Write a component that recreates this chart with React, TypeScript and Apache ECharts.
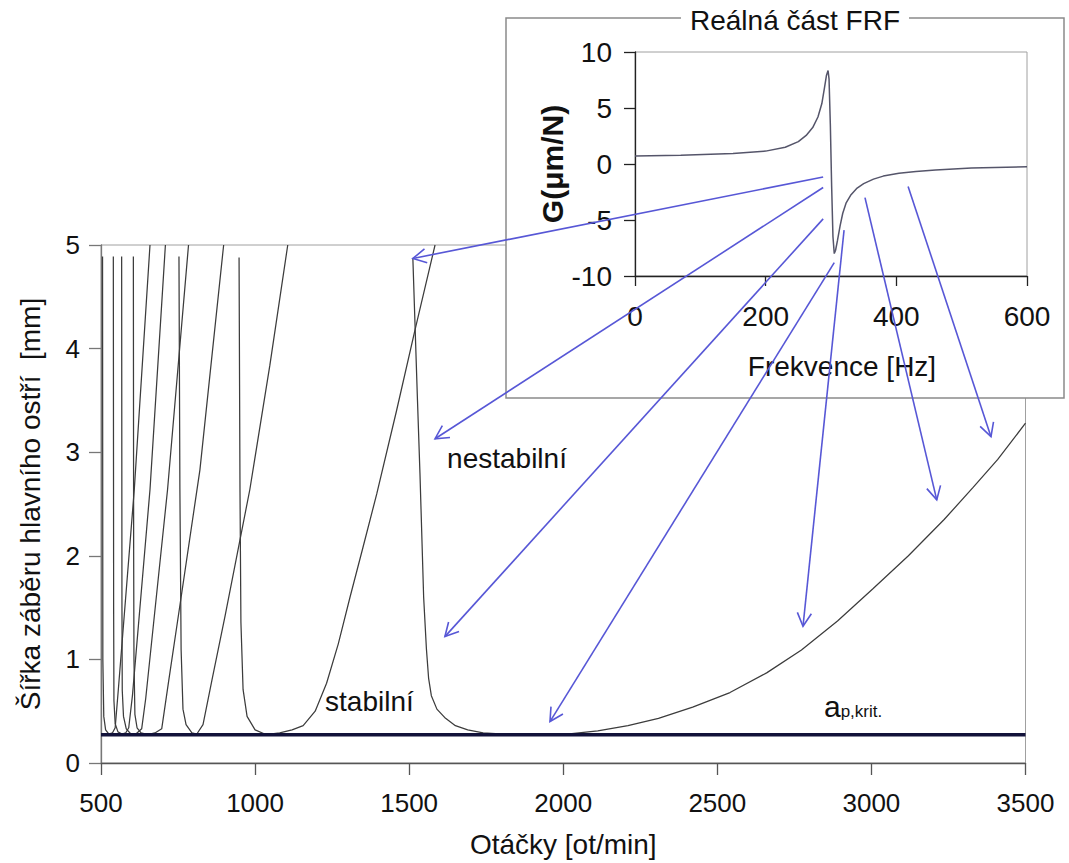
import React, { useEffect, useRef } from 'react';
import * as echarts from 'echarts';

const FONT = "'Liberation Sans', Arial, Helvetica, sans-serif";

// ---------- main chart: stability lobes (x = rpm, y = ap [mm]) ----------
const apKrit = 0.273;
const rpmRange = [500, 3500];

const lobe0 = [
  [1512, 4.87], [1519, 4.23], [1527, 3.5], [1535, 2.8], [1547, 1.6], [1556, 1.1], [1563, 0.82],
  [1572, 0.65], [1590, 0.52], [1615, 0.44], [1650, 0.36], [1690, 0.32], [1740, 0.29], [1820, 0.277],
  [1920, 0.273], [2020, 0.28], [2112, 0.31], [2210, 0.36], [2309, 0.43], [2420, 0.54], [2541, 0.68],
  [2660, 0.87], [2773, 1.09], [2890, 1.37], [3004, 1.68], [3120, 2.0], [3236, 2.35], [3330, 2.66],
  [3410, 2.93], [3500, 3.28],
];
const lobe1 = [
  [948, 4.88], [951, 2.64], [954, 1.36], [961, 0.71], [974, 0.45], [1000, 0.32], [1035, 0.275],
  [1080, 0.29], [1120, 0.32], [1156, 0.36], [1195, 0.5], [1232, 0.77], [1270, 1.15], [1308, 1.6],
  [1350, 2.08], [1395, 2.6], [1459, 3.4], [1519, 4.18], [1584, 5.0],
];
const lobe2 = [
  [753, 4.89], [756, 2.64], [760, 1.09], [766, 0.52], [776, 0.37], [795, 0.29], [811, 0.28],
  [831, 0.37], [860, 0.8], [902, 1.41], [983, 2.64], [1048, 3.84], [1106, 5.0],
];
const lobe3 = [
  [605, 4.89], [606, 2.0], [607, 1.0], [610, 0.47], [617, 0.34], [630, 0.29], [652, 0.275],
  [675, 0.29], [697, 0.33], [720, 0.8], [756, 1.52], [821, 2.83], [898, 5.0],
];
const lobe4 = [
  [567, 4.89], [568, 1.5], [569, 0.7], [573, 0.45], [582, 0.33], [597, 0.28], [615, 0.285],
  [632, 0.33], [645, 0.62], [716, 2.64], [784, 5.0],
];
const lobe5 = [
  [540, 4.89], [541, 1.5], [542, 0.6], [546, 0.38], [555, 0.3], [568, 0.28], [580, 0.29],
  [590, 0.34], [602, 0.65], [659, 2.64], [709, 5.0],
];
const lobe6 = [
  [505, 4.89], [506, 1.0], [509, 0.45], [515, 0.32], [525, 0.28], [537, 0.29], [546, 0.34],
  [556, 0.7], [608, 2.64], [659, 5.0],
];
const lobes = [lobe0, lobe1, lobe2, lobe3, lobe4, lobe5, lobe6];

// ---------- inset: real part of FRF ----------
const frfFreq = [0, 70, 150, 200, 230, 250, 262, 272, 280, 286, 290, 293, 295.5, 297, 299, 301, 303, 305, 307, 310, 314, 318, 323, 330, 340, 350, 365, 380, 404, 430, 460, 515, 600];
const frfReal = [0.72, 0.78, 0.93, 1.15, 1.5, 2.0, 2.55, 3.25, 4.2, 5.4, 6.8, 7.9, 8.35, 7.6, 3.5, -2, -6.5, -8.0, -7.7, -6.8, -5.5, -4.4, -3.5, -2.8, -2.15, -1.75, -1.35, -1.08, -0.82, -0.66, -0.54, -0.36, -0.25];

// arrows: start in FRF coordinates [Hz, G], end in lobe coordinates [rpm, ap]
const arrowFrom = [[288, -1.16], [288, -2.1], [288, -4.9], [305, -8.8], [320, -5.9], [352, -3.0], [418, -2.0]];
const arrowTo = [[1512, 4.87], [1584, 3.13], [1616, 1.22], [1957, 0.4], [2778, 1.32], [3212, 2.54], [3388, 3.15]];

// annotation anchors (data coordinates of main chart)
const stabilniAt = [1227, 0.59];
const nestabilniAt = [1623, 2.94];
const apKritAt = [2846, 0.545];

const ARROW = '#5757d6';

function buildOption() {
  const lobeSeries = lobes.map((d, i) => ({
    name: 'lobe' + i,
    type: 'line',
    xAxisIndex: 0,
    yAxisIndex: 0,
    data: d,
    showSymbol: false,
    symbol: 'none',
    silent: true,
    lineStyle: { color: '#3c3c3c', width: 1.25 },
    z: 2,
  }));
  return {
    animation: false,
    backgroundColor: '#ffffff',
    textStyle: { fontFamily: FONT },
    grid: [
      { left: 101, top: 245, width: 924.5, height: 518.5, show: true, borderColor: '#a0a0a0', borderWidth: 1, backgroundColor: 'rgba(0,0,0,0)', z: 0 },
      { left: 635, top: 52, width: 392, height: 224, show: true, borderColor: '#a0a0a0', borderWidth: 1, backgroundColor: 'rgba(0,0,0,0)', z: 11 },
    ],
    xAxis: [
      {
        gridIndex: 0, type: 'value', min: rpmRange[0], max: rpmRange[1], interval: 500,
        name: 'Otáčky [ot/min]', nameLocation: 'middle', nameGap: 67,
        nameTextStyle: { fontSize: 28, color: '#111', fontFamily: FONT },
        axisLine: { show: true, onZero: false, lineStyle: { color: '#555', width: 1.3 } },
        axisTick: { show: true, length: 12, lineStyle: { color: '#555', width: 1.3 } },
        axisLabel: { fontSize: 26, color: '#111', margin: 27, fontFamily: FONT, formatter: (v: number) => String(v) },
        splitLine: { show: false },
      },
      {
        gridIndex: 1, type: 'value', min: 0, max: 600, interval: 200, z: 11,
        name: 'Frekvence [Hz]', nameLocation: 'middle', nameGap: 76,
        nameTextStyle: { fontSize: 28, color: '#111', fontFamily: FONT, padding: [0, 0, 0, 22] },
        axisLine: { show: true, onZero: false, lineStyle: { color: '#222', width: 1.3 } },
        axisTick: { show: true, length: 10, lineStyle: { color: '#222', width: 1.3 } },
        axisLabel: { fontSize: 28, color: '#111', margin: 26, fontFamily: FONT, formatter: (v: number) => String(v) },
        splitLine: { show: false },
      },
    ],
    yAxis: [
      {
        gridIndex: 0, type: 'value', min: 0, max: 5, interval: 1,
        name: 'Šířka záběru hlavního ostří  [mm]', nameLocation: 'middle', nameGap: 57,
        nameTextStyle: { fontSize: 28, color: '#111', fontFamily: FONT },
        axisLine: { show: true, onZero: false, lineStyle: { color: '#777', width: 1.3 } },
        axisTick: { show: true, length: 12, lineStyle: { color: '#777', width: 1.3 } },
        axisLabel: { fontSize: 26, color: '#111', margin: 21, fontFamily: FONT },
        splitLine: { show: false },
      },
      {
        gridIndex: 1, type: 'value', min: -10, max: 10, interval: 5, z: 11,
        name: 'G(μm/N)', nameLocation: 'middle', nameGap: 46,
        nameTextStyle: { fontSize: 30, color: '#111', fontWeight: 'bold', fontFamily: FONT },
        axisLine: { show: true, onZero: false, lineStyle: { color: '#222', width: 1.3 } },
        axisTick: { show: true, length: 11, lineStyle: { color: '#222', width: 1.3 } },
        axisLabel: { fontSize: 28, color: '#111', margin: 23, fontFamily: FONT },
        splitLine: { show: false },
      },
    ],
    series: [
      ...lobeSeries,
      {
        name: 'ap,krit', type: 'line', xAxisIndex: 0, yAxisIndex: 0,
        data: [[rpmRange[0], apKrit], [rpmRange[1], apKrit]],
        showSymbol: false, symbol: 'none', silent: true,
        lineStyle: { color: '#12123a', width: 3.6 }, z: 3,
      },
      {
        name: 'FRF', type: 'line', xAxisIndex: 1, yAxisIndex: 1,
        data: frfFreq.map((f, i) => [f, frfReal[i]]),
        showSymbol: false, symbol: 'none', silent: true,
        lineStyle: { color: '#55556a', width: 1.5 }, z: 12,
      },
    ],
  };
}

function arrowGraphics(chart: any) {
  const out: any[] = [];
  const L = 15;
  const phi = (28 * Math.PI) / 180;
  arrowFrom.forEach((f, i) => {
    const p0 = chart.convertToPixel({ gridIndex: 1 }, f);
    const p1 = chart.convertToPixel({ gridIndex: 0 }, arrowTo[i]);
    if (!p0 || !p1) return;
    const th = Math.atan2(p1[1] - p0[1], p1[0] - p0[0]);
    const w1 = [p1[0] - L * Math.cos(th - phi), p1[1] - L * Math.sin(th - phi)];
    const w2 = [p1[0] - L * Math.cos(th + phi), p1[1] - L * Math.sin(th + phi)];
    out.push({
      type: 'line', z: 20, silent: true,
      shape: { x1: p0[0], y1: p0[1], x2: p1[0], y2: p1[1] },
      style: { stroke: ARROW, lineWidth: 1.6 },
    });
    out.push({
      type: 'polyline', z: 20, silent: true,
      shape: { points: [w1, p1, w2] },
      style: { stroke: ARROW, lineWidth: 1.6, fill: null },
    });
  });
  return out;
}

function textPx(x: number, y: number, text: string, size: number, align = 'left') {
  return {
    type: 'text', z: 21, silent: true, x, y,
    style: {
      text, fill: '#111', fontFamily: FONT, fontSize: size,
      textAlign: align, textVerticalAlign: 'middle', align, verticalAlign: 'middle',
    },
  };
}

export default function App() {
  const ref = useRef<HTMLDivElement>(null);
  useEffect(() => {
    if (!ref.current) return;
    const chart = echarts.init(ref.current, null, { renderer: 'svg' });
    chart.setOption(buildOption() as any);
    const ps = chart.convertToPixel({ gridIndex: 0 }, stabilniAt) as number[];
    const pn = chart.convertToPixel({ gridIndex: 0 }, nestabilniAt) as number[];
    const pa = chart.convertToPixel({ gridIndex: 0 }, apKritAt) as number[];
    const graphics: any[] = [
      {
        type: 'rect', z: 10, silent: true,
        shape: { x: 506, y: 18, width: 558, height: 380 },
        style: { fill: '#ffffff', stroke: '#8a8a8a', lineWidth: 1.5 },
      },
      {
        type: 'text', z: 10, silent: true, x: 795, y: 20,
        style: {
          text: 'Reálná část FRF', fill: '#111', fontFamily: FONT, fontSize: 28,
          textAlign: 'center', textVerticalAlign: 'middle', align: 'center', verticalAlign: 'middle',
          backgroundColor: '#ffffff', padding: [2, 9],
        },
      },
      textPx(ps[0], ps[1], 'stabilní', 28),
      textPx(pn[0], pn[1], 'nestabilní', 28),
      textPx(pa[0], pa[1], 'a', 30),
      textPx(pa[0] + 16.7, pa[1] + 4.5, 'p,krit.', 17),
      ...arrowGraphics(chart),
    ];
    chart.setOption({ graphic: graphics } as any);
    return () => chart.dispose();
  }, []);
  return (
    <div
      ref={ref}
      style={{ position: 'fixed', left: 0, top: 0, width: 1069, height: 863, background: '#fff' }}
    />
  );
}
